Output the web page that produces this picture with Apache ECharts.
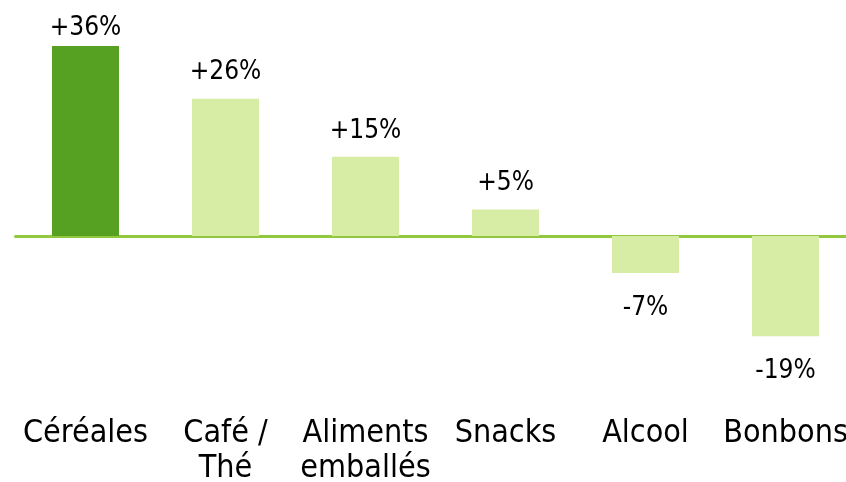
<!DOCTYPE html>
<html><head><meta charset="utf-8">
<script src="https://cdn.jsdelivr.net/npm/echarts@6/dist/echarts.min.js"></script>
<style>html,body{margin:0;padding:0;background:#fff}#c{width:846px;height:482px}</style>
</head><body><div id="c"></div>
<script>
const categories = ['Céréales', 'Café /\nThé', 'Aliments\nemballés', 'Snacks', 'Alcool', 'Bonbons'];
const values = [36, 26, 15, 5, -7, -19];
const labels = ['+36%', '+26%', '+15%', '+5%', '-7%', '-19%'];
const highlight = [true, false, false, false, false, false];

const FONT = '"DejaVu Sans Condensed", "Liberation Sans Narrow", sans-serif';
const chart = echarts.init(document.getElementById('c'));
chart.setOption({
  animation: false,
  grid: {left: 15.5, width: 840, top: 24.8, bottom: 87.6, containLabel: false, outerBoundsMode: 'none'},
  xAxis: [{
    type: 'category', data: categories, position: 'bottom',
    axisLine: {show: false, onZero: false}, axisTick: {show: false},
    axisLabel: {fontFamily: FONT, fontSize: 32, color: '#000', lineHeight: 35, margin: 22, interval: 0}
  }, {
    type: 'category', data: categories,
    axisLine: {show: true, onZero: true, lineStyle: {color: '#92c83e', width: 3}},
    axisTick: {show: false}, axisLabel: {show: false}
  }],
  yAxis: {type: 'value', min: -30, max: 40, show: false, splitLine: {show: false}},
  series: [{
    type: 'bar', xAxisIndex: 0, barWidth: 67,
    data: values.map((v, i) => ({
      value: v,
      itemStyle: {color: highlight[i] ? '#56a022' : '#d7eca4'},
      label: {formatter: labels[i], position: v >= 0 ? 'top' : 'bottom', distance: i === 0 ? 5 : (v >= 0 ? 13 : 22)}
    })),
    label: {show: true, fontFamily: FONT, fontSize: 26, color: '#000'}
  }]
});
</script></body></html>
